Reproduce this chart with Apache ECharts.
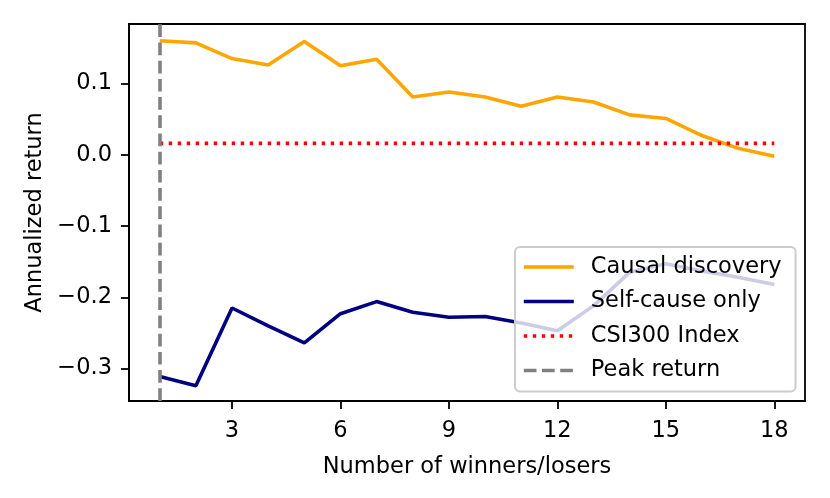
<!DOCTYPE html>
<html>
<head>
<meta charset="utf-8">
<script src="https://cdn.jsdelivr.net/npm/echarts@6/dist/echarts.min.js"></script>
<style>
  html, body { margin: 0; padding: 0; background: #fff; }
  #chart { width: 830px; height: 498px; }
</style>
</head>
<body>
<div id="chart"></div>
<script>
// number of winners/losers
var winners = [1, 2, 3, 4, 5, 6, 7, 8, 9, 10, 11, 12, 13, 14, 15, 16, 17, 18];
var causalDiscovery = [0.160, 0.157, 0.135, 0.126, 0.159, 0.125, 0.134, 0.081, 0.088,
  0.081, 0.068, 0.081, 0.074, 0.056, 0.051, 0.027, 0.009, -0.002];
var selfCauseOnly = [-0.311, -0.324, -0.215, -0.240, -0.264, -0.223, -0.206, -0.221, -0.228,
  -0.227, -0.236, -0.247, -0.212, -0.165, -0.153, -0.163, -0.172, -0.182];
var csi300Return = 0.016;
var peakReturnAt = 1;
var xTicks = [3, 6, 9, 12, 15, 18];
var yTicks = [-0.3, -0.2, -0.1, 0.0, 0.1];

var font = 'DejaVu Sans';
var fs = 22.5;
var lw = 3.6;

function pairs(xs, ys) {
  return xs.map(function (x, i) { return [x, ys[i]]; });
}
function fmtY(v) {
  return (v < -1e-9 ? '\u2212' : '') + Math.abs(v).toFixed(1);
}

var chart = echarts.init(document.getElementById('chart'), null, { renderer: 'canvas' });

var option = {
  animation: false,
  backgroundColor: '#fff',
  textStyle: { fontFamily: font },
  grid: {
    left: 129, right: 25, top: 24, bottom: 97,
    show: true, borderColor: '#000', borderWidth: 1.8, backgroundColor: 'transparent'
  },
  legend: {
    orient: 'vertical',
    left: 515,
    top: 247,
    padding: [8, 14, 9, 7],
    itemGap: 10.5,
    itemWidth: 50,
    itemHeight: 14,
    backgroundColor: 'rgba(255,255,255,0.8)',
    borderColor: '#cccccc',
    borderWidth: 2,
    borderRadius: 5,
    itemStyle: { opacity: 0 },
    lineStyle: { width: lw },
    textStyle: { fontFamily: font, fontSize: fs, color: '#000', lineHeight: 24, padding: [0, 0, 0, 12] },
    data: ['Causal discovery', 'Self-cause only', 'CSI300 Index', 'Peak return']
  },
  xAxis: {
    type: 'value',
    min: 0.15,
    max: 18.85,
    name: 'Number of winners/losers',
    nameLocation: 'middle',
    nameGap: 55,
    nameTextStyle: { fontFamily: font, fontSize: fs, color: '#000' },
    splitLine: { show: false },
    axisLine: { onZero: false, lineStyle: { color: '#000', width: 1.8 } },
    axisTick: { inside: false, length: 8, lineStyle: { color: '#000', width: 1.8 }, customValues: xTicks },
    axisLabel: { fontFamily: font, fontSize: fs, color: '#000', margin: 19, customValues: xTicks,
      formatter: function (v) { return String(Math.round(v)); } }
  },
  yAxis: {
    type: 'value',
    min: -0.3455,
    max: 0.1835,
    name: 'Annualized return',
    nameLocation: 'middle',
    nameRotate: 90,
    nameGap: 73,
    nameTextStyle: { fontFamily: font, fontSize: fs, color: '#000' },
    splitLine: { show: false },
    axisLine: { show: true, onZero: false, lineStyle: { color: '#000', width: 1.8 } },
    axisTick: { show: true, inside: false, length: 8, lineStyle: { color: '#000', width: 1.8 }, customValues: yTicks },
    axisLabel: { fontFamily: font, fontSize: fs, color: '#000', margin: 17, customValues: yTicks,
      formatter: fmtY }
  },
  series: [
    {
      name: 'Causal discovery',
      type: 'line',
      data: pairs(winners, causalDiscovery),
      showSymbol: false,
      symbol: 'none',
      lineStyle: { color: '#FFA500', width: lw },
      itemStyle: { color: '#FFA500' },
      z: 3
    },
    {
      name: 'Self-cause only',
      type: 'line',
      data: pairs(winners, selfCauseOnly),
      showSymbol: false,
      symbol: 'none',
      lineStyle: { color: '#000080', width: lw },
      itemStyle: { color: '#000080' },
      z: 3
    },
    {
      name: 'CSI300 Index',
      type: 'line',
      data: [[winners[0], csi300Return], [winners[winners.length - 1], csi300Return]],
      showSymbol: false,
      symbol: 'none',
      lineStyle: { color: '#FF0000', width: lw, type: [3.4, 5.6] },
      itemStyle: { color: '#FF0000' },
      z: 3
    },
    {
      name: 'Peak return',
      type: 'line',
      data: [],
      showSymbol: false,
      symbol: 'none',
      lineStyle: { color: '#808080', width: lw, type: [12.7, 5.5] },
      itemStyle: { color: '#808080' },
      markLine: {
        silent: true,
        symbol: ['none', 'none'],
        label: { show: false },
        lineStyle: { color: '#808080', width: lw, type: [12.7, 5.5] },
        data: [{ xAxis: peakReturnAt }]
      },
      z: 3
    }
  ]
};

chart.setOption(option);
</script>
</body>
</html>
